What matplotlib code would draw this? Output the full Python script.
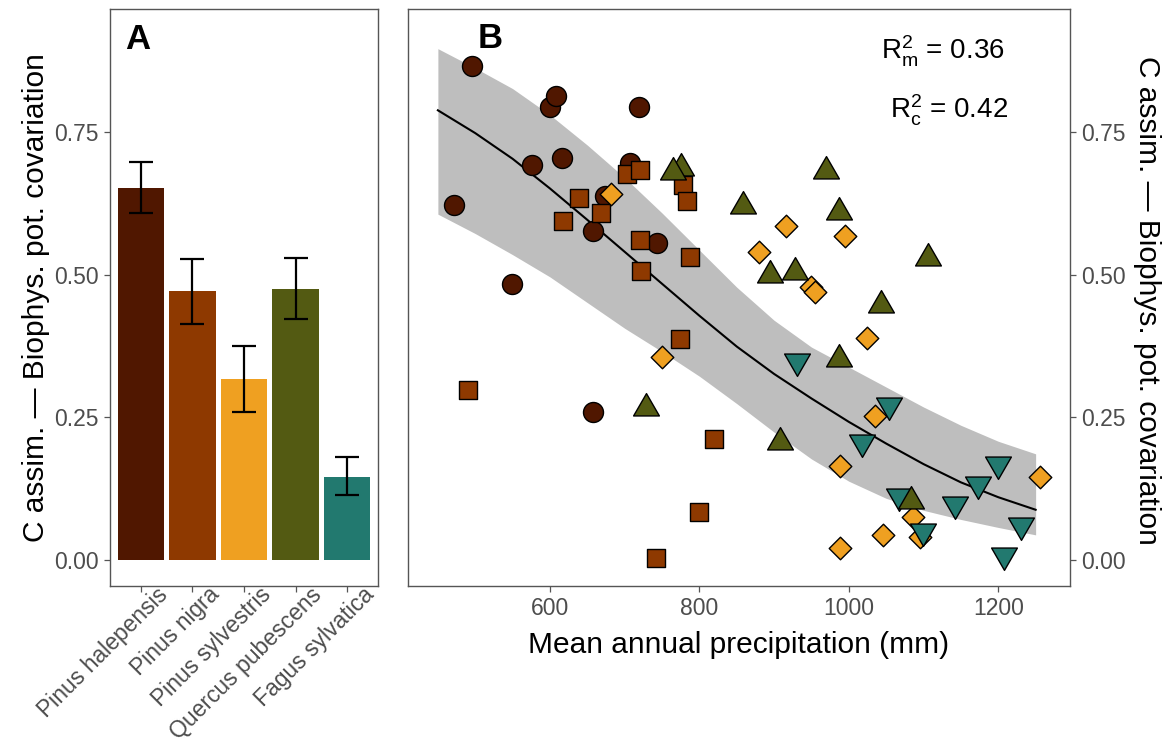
import numpy as np
import matplotlib
matplotlib.use("Agg")
import matplotlib.pyplot as plt
from matplotlib.path import Path
from matplotlib.transforms import ScaledTranslation

plt.rcParams['font.family'] = ['Liberation Sans', 'DejaVu Sans']
plt.rcParams['mathtext.fontset'] = 'custom'
plt.rcParams['mathtext.rm'] = 'Liberation Sans'
plt.rcParams['mathtext.it'] = 'Liberation Sans:italic'

#%%
### Panel A data ###
species = ["Pinus halepensis", "Pinus nigra", "Pinus sylvestris",
           "Quercus pubescens", "Fagus sylvatica"]
bar_mean = [0.652, 0.471, 0.317, 0.475, 0.145]
bar_lo = [0.608, 0.413, 0.260, 0.423, 0.113]
bar_hi = [0.698, 0.528, 0.375, 0.529, 0.180]
sp_colors = ["#501700", "#8E3900", "#EFA021", "#535A12", "#22796F"]

### Panel B data ###
halep_x = [496, 471, 549, 576, 600, 608, 616, 719, 707, 674, 657, 743, 657]
halep_y = [0.865, 0.622, 0.483, 0.692, 0.794, 0.813, 0.705, 0.794, 0.695, 0.638, 0.576, 0.555, 0.260]
nigra_x = [703, 720, 778, 784, 639, 668, 618, 720, 722, 787, 774, 490, 819, 800, 742]
nigra_y = [0.677, 0.684, 0.657, 0.629, 0.634, 0.608, 0.594, 0.561, 0.506, 0.531, 0.387, 0.297, 0.212, 0.084, 0.004]
sylv_x = [682, 880, 916, 995, 949, 955, 1024, 750, 1035, 988, 988, 1046, 1086, 1095, 1256]
sylv_y = [0.642, 0.540, 0.585, 0.568, 0.479, 0.469, 0.389, 0.356, 0.253, 0.165, 0.021, 0.043, 0.076, 0.041, 0.146]
quer_x = [775, 765, 859, 894, 928, 969, 987, 1106, 1043, 729, 908, 1083, 987]
quer_y = [0.687, 0.680, 0.621, 0.500, 0.505, 0.681, 0.609, 0.530, 0.447, 0.267, 0.206, 0.103, 0.352]
fagus_x = [931, 1017, 1054, 1067, 1099, 1142, 1173, 1199, 1231, 1207]
fagus_y = [0.348, 0.207, 0.272, 0.112, 0.051, 0.098, 0.134, 0.169, 0.061, 0.008]

# fitted line and confidence band
fit_x = [450, 500, 550, 600, 650, 700, 750, 800, 850, 900, 950, 1000, 1050, 1100, 1150, 1200, 1250]
fit_y = [0.788, 0.748, 0.703, 0.651, 0.596, 0.540, 0.484, 0.428, 0.374, 0.326, 0.283, 0.242, 0.204, 0.168, 0.136, 0.110, 0.088]
fit_hi = [0.896, 0.862, 0.826, 0.780, 0.727, 0.670, 0.608, 0.543, 0.478, 0.420, 0.373, 0.338, 0.303, 0.268, 0.236, 0.208, 0.186]
fit_lo = [0.606, 0.572, 0.535, 0.496, 0.451, 0.406, 0.365, 0.322, 0.274, 0.224, 0.177, 0.138, 0.108, 0.087, 0.071, 0.057, 0.044]

yticks = [0.00, 0.25, 0.50, 0.75]
xticks_b = [600, 800, 1000, 1200]
ylab = "C assim. \u2014 Biophys. pot. covariation"

#%%
W, H = 1169, 748
fig = plt.figure(figsize=(W / 100, H / 100), dpi=100)

def px_axes(l, t, r, b):
    return fig.add_axes([l / W, 1 - b / H, (r - l) / W, (b - t) / H])

axA = px_axes(110, 9, 378, 586)
axB = px_axes(408, 9, 1070, 586)

ylim = (-0.0456, 0.9655)
grey = "#555555"
for ax in (axA, axB):
    ax.set_ylim(*ylim)
    ax.set_yticks(yticks)
    ax.set_yticklabels([f"{v:.2f}" for v in yticks])
    for s in ax.spines.values():
        s.set_color(grey)
        s.set_linewidth(1.0)
    ax.tick_params(colors=grey, labelcolor="#4D4D4D", length=4.3, width=0.9,
                   pad=3.6, labelsize=16.5)

### Panel A ###
xpos = np.arange(len(species))
axA.bar(xpos, bar_mean, width=0.9, color=sp_colors, zorder=2)
err = [np.array(bar_mean) - np.array(bar_lo), np.array(bar_hi) - np.array(bar_mean)]
axA.errorbar(xpos, bar_mean, yerr=err, fmt="none", ecolor="black",
             elinewidth=1.6, capsize=8.3, capthick=1.6, zorder=3)
axA.set_xlim(-0.6, 4.6)
axA.set_xticks(xpos)
axA.set_xticklabels(species, rotation=45, ha="right", va="top",
                    rotation_mode="anchor", fontsize=16.5)
shift = ScaledTranslation(15 / 100, 14 / 100, fig.dpi_scale_trans)
for lab in axA.get_xticklabels():
    lab.set_transform(lab.get_transform() + shift)
axA.text(0.102, 0.9315, "A", transform=axA.transAxes, ha="center",
         va="baseline", fontsize=25, fontweight="bold")

### Panel B ###
axB.fill_between(fit_x, fit_lo, fit_hi, color="#BEBEBE", lw=0, zorder=1)
axB.plot(fit_x, fit_y, color="black", lw=1.5, zorder=2)

tri_up = Path([(0, 1), (-0.866, -0.5), (0.866, -0.5), (0, 1)], closed=True)
tri_dn = Path([(0, -1), (-0.866, 0.5), (0.866, 0.5), (0, -1)], closed=True)
ekw = dict(edgecolors="black", linewidths=1.0, zorder=3)
axB.scatter(halep_x, halep_y, s=207, marker="o", c=sp_colors[0], **ekw)
axB.scatter(nigra_x, nigra_y, s=159, marker="s", c=sp_colors[1], **ekw)
axB.scatter(sylv_x, sylv_y, s=132, marker="D", c=sp_colors[2], **ekw)
axB.scatter(fagus_x, fagus_y, s=460, marker=tri_dn, c=sp_colors[4], **ekw)
axB.scatter(quer_x, quer_y, s=460, marker=tri_up, c=sp_colors[3], **ekw)

axB.set_xlim(410, 1296)
axB.set_xticks(xticks_b)
axB.yaxis.tick_right()
axB.text(0.124, 0.932, "B", transform=axB.transAxes, ha="center",
         va="baseline", fontsize=25, fontweight="bold")
axB.text(0.9018, 0.9133, r"$\mathrm{R^2_m}$ = 0.36", transform=axB.transAxes,
         ha="right", va="baseline", fontsize=20)
axB.text(0.9063, 0.8094, r"$\mathrm{R^2_c}$ = 0.42", transform=axB.transAxes,
         ha="right", va="baseline", fontsize=20)

# axis titles
fig.text(36 / W, 1 - 298 / H, ylab, rotation=90, ha="center", va="center", fontsize=21.5)
fig.text(1147 / W, 1 - 300 / H, ylab, rotation=270, ha="center", va="center", fontsize=21.5)
fig.text(739 / W, 1 - 653 / H, "Mean annual precipitation (mm)", ha="center",
         va="baseline", fontsize=21.5)

fig.savefig("out.png", dpi=100)
